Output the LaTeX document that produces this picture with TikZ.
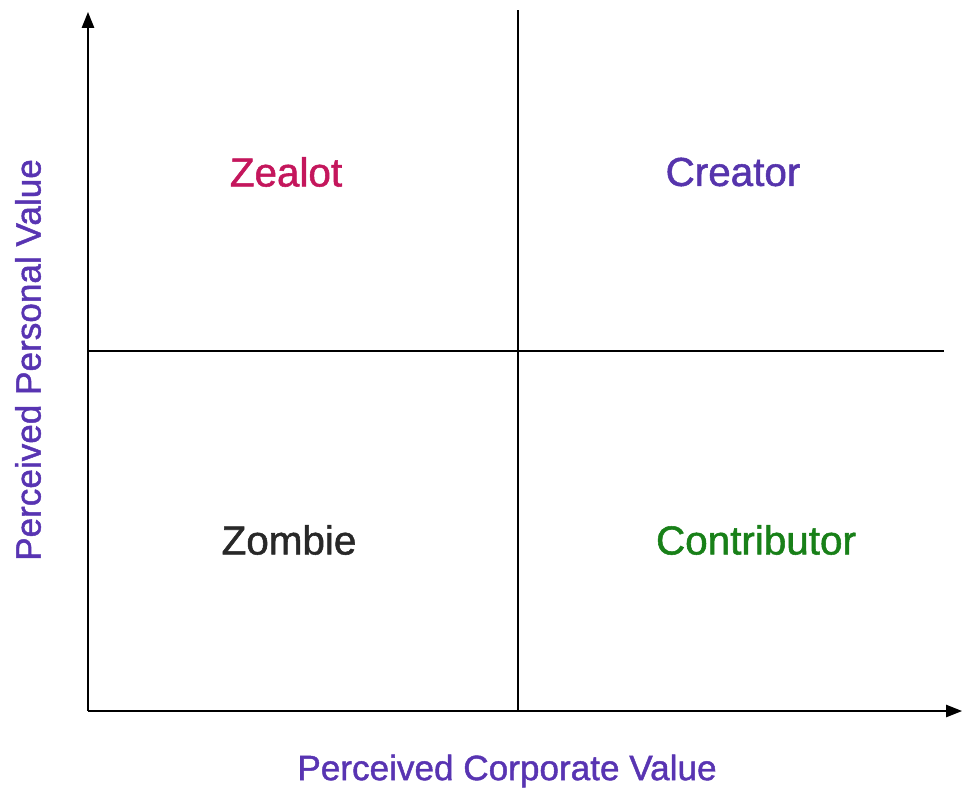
\documentclass[tikz,border=0pt]{standalone}
\usepackage{fontspec}
\setmainfont{Liberation Sans}[AutoFakeBold=1.3]
\usepackage{tikz}
\usetikzlibrary{arrows.meta,positioning}
\definecolor{axispurple}{RGB}{88,52,178}
\definecolor{zealotred}{RGB}{196,22,92}
\definecolor{creatorblue}{RGB}{86,52,172}
\definecolor{contribgreen}{RGB}{24,128,24}
\definecolor{zombiegray}{RGB}{40,40,40}

\begin{document}
\begin{tikzpicture}[x=0.02cm,y=-0.02cm,
  axis/.style={line width=0.8pt,-{Triangle[length=9pt,width=7pt]}},
  divider/.style={line width=0.6pt},
  quadlabel/.style={font=\fontsize{23}{26}\selectfont\bfseries},
  axislabel/.style={font=\fontsize{20}{24}\selectfont\bfseries,text=axispurple}]
\useasboundingbox (0,0) rectangle (962,789);
% axes
\coordinate (origin) at (88,711);
\coordinate (ytip) at (88,12);
\coordinate (xtip) at (962,711);
\draw[axis] (origin) -- (ytip);
\draw[axis] (origin) -- (xtip);
% quadrant lines
\coordinate (vtop) at (518,10);
\coordinate (vbot) at (518,711);
\coordinate (hleft) at (88,351);
\coordinate (hright) at (944,351);
\draw[divider] (vtop) -- (vbot);
\draw[divider] (hleft) -- (hright);
% quadrants
\node[quadlabel,text=zealotred] (zealot) at (286,172) {Zealot};
\node[quadlabel,text=creatorblue] (creator) at (733,172) {Creator};
\node[quadlabel,text=zombiegray] (zombie) at (289,540) {Zombie};
\node[quadlabel,text=contribgreen] (contributor) at (756,540) {Contributor};
% axis titles
\node[axislabel] (xlabel) at (507,771) {Perceived Corporate Value};
\node[axislabel,rotate=90] (ylabel) at (28,360) {Perceived Personal Value};
\end{tikzpicture}
\end{document}
